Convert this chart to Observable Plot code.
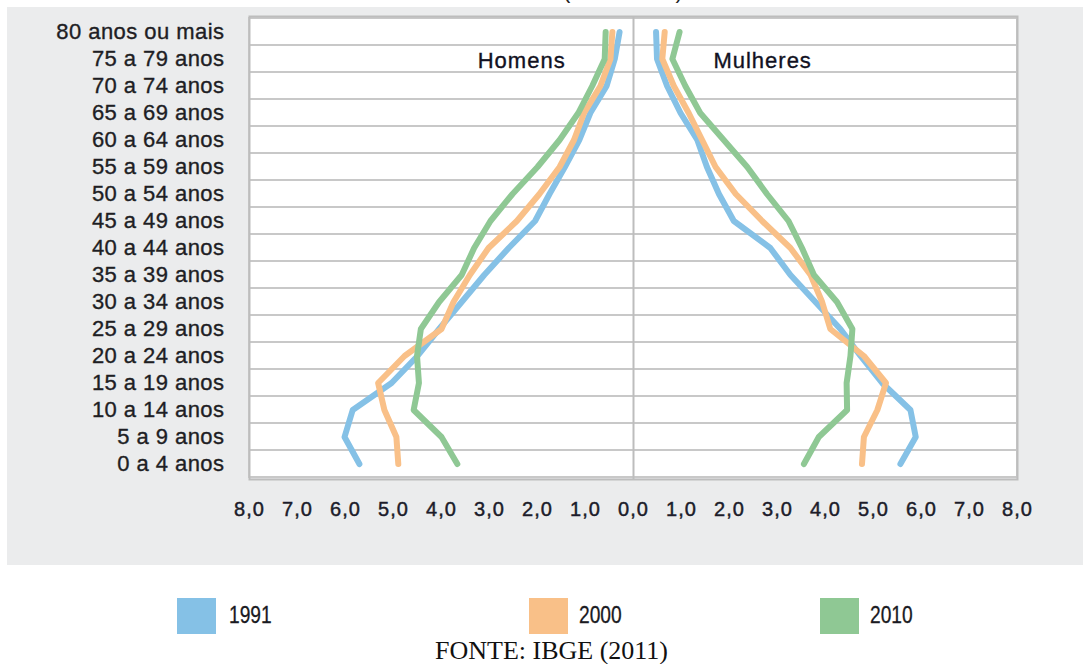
<!DOCTYPE html>
<html>
<head>
<meta charset="utf-8">
<script src="https://cdn.jsdelivr.net/npm/d3@7"></script>
<script src="https://cdn.jsdelivr.net/npm/@observablehq/plot@0.6"></script>
<style>
  html, body { margin: 0; padding: 0; background: #ffffff; width: 1083px; height: 664px; overflow: hidden; }
  body { position: relative; font-family: "Liberation Sans", Arial, sans-serif; }
  #bg { position: absolute; left: 7px; top: 7px; width: 1076px; height: 558px; background: #ebeced; }
  #chart { position: absolute; left: 0; top: 0; }
  #toptitle { position: absolute; left: 563px; top: -20px; font-size: 22px; line-height: 22px; color: #222; white-space: nowrap; }
  .sw { position: absolute; top: 598px; width: 39px; height: 36px; }
  .lt { position: absolute; top: 601px; font-size: 24px; line-height: 28px; color: #1a1a22; transform: scaleX(0.8); transform-origin: left center; -webkit-text-stroke: 0.3px #1a1a22; }
  #fonte { position: absolute; left: 0; width: 1103px; top: 636px; text-align: center; font-family: "Liberation Serif", "Times New Roman", serif; font-size: 26px; line-height: 30px; color: #111; }
</style>
</head>
<body>
<div id="bg"></div>
<div id="toptitle">(1991-2010)</div>
<div id="chart"></div>
<div id="legend"></div>
<div id="fonte">FONTE: IBGE (2011)</div>
<script>
const categories = ["80 anos ou mais","75 a 79 anos","70 a 74 anos","65 a 69 anos","60 a 64 anos","55 a 59 anos","50 a 54 anos","45 a 49 anos","40 a 44 anos","35 a 39 anos","30 a 34 anos","25 a 29 anos","20 a 24 anos","15 a 19 anos","10 a 14 anos","5 a 9 anos","0 a 4 anos"];
const years = ["1991","2000","2010"];
const yearColors = ["#85c1e6","#f9c088","#8fc894"];
const men1991 = [0.29,0.39,0.56,0.90,1.13,1.43,1.75,2.05,2.60,3.11,3.58,4.05,4.50,5.04,5.85,6.02,5.71];
const men2000 = [0.44,0.48,0.69,1.03,1.24,1.54,1.96,2.43,3.02,3.41,3.75,4.00,4.77,5.32,5.19,4.94,4.90];
const men2010 = [0.58,0.60,0.86,1.15,1.54,2.00,2.52,2.98,3.32,3.58,4.05,4.43,4.51,4.47,4.58,4.00,3.67];
const women1991 = [0.47,0.49,0.70,0.98,1.33,1.53,1.78,2.09,2.85,3.27,3.79,4.31,4.73,5.18,5.77,5.88,5.56];
const women2000 = [0.65,0.60,0.84,1.15,1.43,1.71,2.13,2.68,3.27,3.69,3.93,4.10,4.80,5.26,5.08,4.80,4.76];
const women2010 = [0.96,0.81,1.08,1.39,1.88,2.37,2.78,3.23,3.51,3.76,4.24,4.56,4.52,4.44,4.45,3.86,3.55];
const xTicks = [-8,-7,-6,-5,-4,-3,-2,-1,0,1,2,3,4,5,6,7,8];
const sexLabels = [
  {label: "Homens", x: -2.33, y: "75 a 79 anos"},
  {label: "Mulheres", x: 2.69, y: "75 a 79 anos"}
];

const menSeries = [men1991, men2000, men2010];
const womenSeries = [women1991, women2000, women2010];
const rows = [];
years.forEach((yr, i) => {
  categories.forEach((c, j) => rows.push({year: yr, sex: "H", series: yr + "H", age: c, value: -menSeries[i][j]}));
  categories.forEach((c, j) => rows.push({year: yr, sex: "M", series: yr + "M", age: c, value: womenSeries[i][j]}));
});

const fmt = d => Math.abs(d).toFixed(1).replace(".", ",");

const chart = Plot.plot({
  width: 1083,
  height: 530,
  marginLeft: 249,
  marginRight: 66,
  marginTop: 16,
  marginBottom: 51,
  style: {background: "transparent", fontFamily: "'Liberation Sans', Arial, sans-serif", overflow: "visible"},
  x: {domain: [-8, 8], axis: null},
  y: {domain: categories, type: "band", padding: 0, axis: null},
  color: {domain: years, range: yearColors},
  marks: [
    Plot.barX(categories, {y: d => d, x1: -8, x2: 8, fill: "white", stroke: "#c8c8c8", strokeWidth: 2, inset: 0}),
    Plot.ruleX([0], {stroke: "#bdbdbd", strokeWidth: 2}),
    Plot.frame({stroke: "#bdbdbd", strokeWidth: 2}),
    Plot.axisX({ticks: xTicks, tickFormat: fmt, tickSize: 0, tickPadding: 22, fontSize: 20, fill: "#1c1c2a", label: null}),
    Plot.axisY({tickSize: 0, tickPadding: 25, fontSize: 22, fill: "#1e1e24", label: null}),
    Plot.line(rows, {x: "value", y: "age", z: "series", stroke: "year", strokeWidth: 6, strokeLinejoin: "round", strokeLinecap: "round"}),
    Plot.text(sexLabels, {x: "x", y: "y", text: "label", fontSize: 22, fill: "#111122", dy: 2})
  ]
});
const sel = d3.select(chart);
sel.selectAll('g[aria-label="y-axis tick label"] text')
  .style("letter-spacing", "0.45px").style("stroke", "#1e1e24").style("stroke-width", "0.35px");
sel.selectAll('g[aria-label="x-axis tick label"] text')
  .style("letter-spacing", "1px").style("stroke", "#1c1c2a").style("stroke-width", "0.45px");
sel.selectAll('g[aria-label="text"] text')
  .style("letter-spacing", "1px").style("stroke", "#111122").style("stroke-width", "0.35px");
document.getElementById("chart").appendChild(chart);

const legend = document.getElementById("legend");
const swLeft = [177, 529, 820];
const txtLeft = [229, 579, 870];
years.forEach((yr, i) => {
  const s = document.createElement("div");
  s.className = "sw";
  s.style.left = swLeft[i] + "px";
  s.style.background = yearColors[i];
  legend.appendChild(s);
  const t = document.createElement("div");
  t.className = "lt";
  t.style.left = txtLeft[i] + "px";
  t.textContent = yr;
  legend.appendChild(t);
});
</script>
</body>
</html>
